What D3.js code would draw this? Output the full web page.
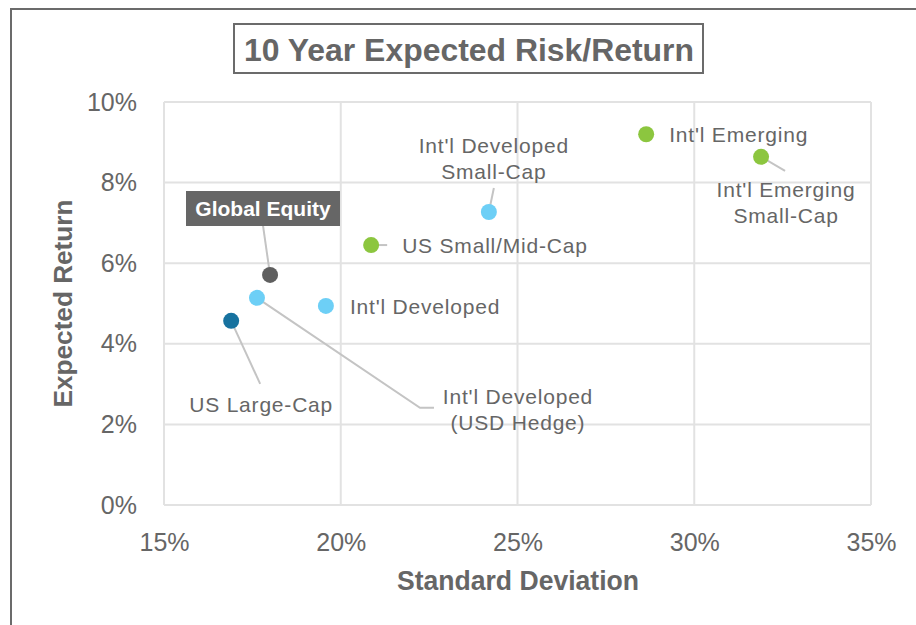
<!DOCTYPE html>
<html>
<head>
<meta charset="utf-8">
<script src="https://cdn.jsdelivr.net/npm/d3@7"></script>
<style>
    body { margin: 0; background: #fff; }
    .lbl { font-family: "Liberation Sans", Arial, sans-serif; font-size: 21px; letter-spacing: 0.8px; fill: #666; }
</style>
</head>
<body>
<script>
(function(){
    //chart data
    var names = ["Global Equity", "Int'l Developed (USD Hedge)", "US Large-Cap", "Int'l Developed",
        "US Small/Mid-Cap", "Int'l Developed Small-Cap", "Int'l Emerging", "Int'l Emerging Small-Cap"];
    var stdDev = [18.0, 17.63, 16.9, 19.58, 20.86, 24.19, 28.64, 31.89];
    var expReturn = [5.71, 5.14, 4.57, 4.94, 6.45, 7.27, 9.2, 8.64];
    var groups = ["global", "intl", "us", "intl", "growth", "intl", "growth", "growth"];
    var xTicks = [15, 20, 25, 30, 35];
    var yTicks = [0, 2, 4, 6, 8, 10];

    var colors = {global: "#5f5f5f", intl: "#6dcff6", us: "#17729f", growth: "#8cc63f"};
    var font = "Liberation Sans, Arial, sans-serif";

    var width = 916, height = 625;
    var plot = {left: 164, right: 871, top: 102, bottom: 505};

    var svg = d3.select("body").append("svg")
        .attr("width", width)
        .attr("height", height)
        .style("font-family", font);

    //outer frame (runs off the page right and bottom)
    svg.append("rect")
        .attr("x", 11).attr("y", 9)
        .attr("width", 1000).attr("height", 1000)
        .attr("fill", "none")
        .attr("stroke", "#6b6b6b")
        .attr("stroke-width", 2);

    var x = d3.scaleLinear().domain([15, 35]).range([plot.left, plot.right]);
    var y = d3.scaleLinear().domain([0, 10]).range([plot.bottom, plot.top]);

    //gridlines
    svg.append("g").selectAll("line")
        .data(xTicks).enter().append("line")
        .attr("x1", function(d){ return x(d); })
        .attr("x2", function(d){ return x(d); })
        .attr("y1", plot.top).attr("y2", plot.bottom)
        .attr("stroke", "#e2e2e2").attr("stroke-width", 2);
    svg.append("g").selectAll("line")
        .data(yTicks).enter().append("line")
        .attr("y1", function(d){ return y(d); })
        .attr("y2", function(d){ return y(d); })
        .attr("x1", plot.left).attr("x2", plot.right)
        .attr("stroke", "#e2e2e2").attr("stroke-width", 2);

    //axes (labels only)
    var xAxis = svg.append("g")
        .attr("transform", "translate(0," + plot.bottom + ")")
        .call(d3.axisBottom(x).tickValues(xTicks).tickSize(0).tickPadding(28)
            .tickFormat(function(d){ return d + "%"; }));
    var yAxis = svg.append("g")
        .attr("transform", "translate(" + plot.left + ",0)")
        .call(d3.axisLeft(y).tickValues(yTicks).tickSize(0).tickPadding(27)
            .tickFormat(function(d){ return d + "%"; }));
    [xAxis, yAxis].forEach(function(a){
        a.select(".domain").remove();
        a.selectAll("text")
            .style("font-family", font)
            .style("font-size", "25px")
            .style("fill", "#666");
    });

    //axis titles
    svg.append("text")
        .attr("x", 518)
        .attr("y", 590)
        .attr("text-anchor", "middle")
        .attr("textLength", 242).attr("lengthAdjust", "spacingAndGlyphs")
        .style("font-size", "28px").style("font-weight", "bold").style("fill", "#666")
        .text("Standard Deviation");
    svg.append("text")
        .attr("transform", "translate(72," + (plot.top + plot.bottom) / 2 + ") rotate(-90)")
        .attr("text-anchor", "middle")
        .attr("textLength", 208).attr("lengthAdjust", "spacingAndGlyphs")
        .style("font-size", "25px").style("font-weight", "bold").style("fill", "#666")
        .text("Expected Return");

    //title box
    svg.append("rect")
        .attr("x", 234).attr("y", 24)
        .attr("width", 469).attr("height", 49)
        .attr("fill", "#fff")
        .attr("stroke", "#6b6b6b").attr("stroke-width", 2);
    svg.append("text")
        .attr("x", 469).attr("y", 61)
        .attr("text-anchor", "middle")
        .attr("textLength", 450).attr("lengthAdjust", "spacingAndGlyphs")
        .style("font-size", "32px").style("font-weight", "bold").style("fill", "#666")
        .text("10 Year Expected Risk/Return");

    //leader lines: point index and bend/end offsets
    var leaders = [
        {i: 0, pts: [[-7, -49]]},
        {i: 1, pts: [[163, 110], [177, 110]]},
        {i: 2, pts: [[29, 63]]},
        {i: 4, pts: [[16, 0]]},
        {i: 5, pts: [[5, -24]]},
        {i: 7, pts: [[24, 14]]}
    ];
    svg.append("g").selectAll("path")
        .data(leaders).enter().append("path")
        .attr("d", function(d){
            var px = x(stdDev[d.i]), py = y(expReturn[d.i]);
            var line = [[px, py]].concat(d.pts.map(function(p){ return [px + p[0], py + p[1]]; }));
            return d3.line()(line);
        })
        .attr("fill", "none")
        .attr("stroke", "#c4c4c4")
        .attr("stroke-width", 2);

    //points
    svg.append("g").selectAll("circle")
        .data(names).enter().append("circle")
        .attr("cx", function(d, i){ return x(stdDev[i]); })
        .attr("cy", function(d, i){ return y(expReturn[i]); })
        .attr("r", 8)
        .attr("fill", function(d, i){ return colors[groups[i]]; });

    //data labels: text lines, offset from point, anchor
    var labels = [
        {i: 1, lines: ["Int'l Developed", "(USD Hedge)"], dx: 261, dy: 106, anchor: "middle"},
        {i: 2, lines: ["US Large-Cap"], dx: 30, dy: 91, anchor: "middle"},
        {i: 3, lines: ["Int'l Developed"], dx: 24, dy: 8, anchor: "start"},
        {i: 4, lines: ["US Small/Mid-Cap"], dx: 31, dy: 8, anchor: "start"},
        {i: 5, lines: ["Int'l Developed", "Small-Cap"], dx: 5, dy: -59, anchor: "middle"},
        {i: 6, lines: ["Int'l Emerging"], dx: 23, dy: 8, anchor: "start"},
        {i: 7, lines: ["Int'l Emerging", "Small-Cap"], dx: 25, dy: 40, anchor: "middle"}
    ];
    labels.forEach(function(l){
        var t = svg.append("text")
            .attr("class", "lbl")
            .attr("text-anchor", l.anchor)
            .attr("x", x(stdDev[l.i]) + l.dx)
            .attr("y", y(expReturn[l.i]) + l.dy);
        l.lines.forEach(function(s, k){
            t.append("tspan")
                .attr("x", x(stdDev[l.i]) + l.dx)
                .attr("dy", k === 0 ? 0 : 26)
                .text(s);
        });
    });

    //Global Equity callout box
    svg.append("rect")
        .attr("x", 186).attr("y", 191)
        .attr("width", 154).attr("height", 35)
        .attr("fill", "#666");
    svg.append("text")
        .attr("x", 263).attr("y", 216)
        .attr("text-anchor", "middle")
        .style("font-size", "21px").style("font-weight", "bold").style("fill", "#fff")
        .text("Global Equity");
})();
</script>
</body>
</html>
